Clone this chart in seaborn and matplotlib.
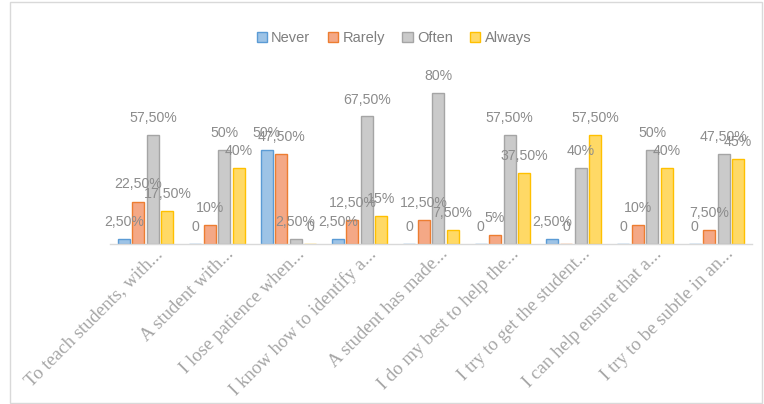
import matplotlib
matplotlib.use("Agg")
import matplotlib.pyplot as plt
import matplotlib.transforms as mtransforms
import seaborn as sns
import pandas as pd
from matplotlib.patches import Rectangle, Patch

categories = [
    "To teach students, with...",
    "A student with...",
    "I lose patience when...",
    "I know how to identify a...",
    "A student has made...",
    "I do my best to help the...",
    "I try to get the student...",
    "I can help ensure that a...",
    "I try to be subtle in an...",
]
series = ["Never", "Rarely", "Often", "Always"]
never = [2.5, 0, 50, 2.5, 0, 0, 2.5, 0, 0]
rarely = [22.5, 10, 47.5, 12.5, 12.5, 5, 0, 10, 7.5]
often = [57.5, 50, 2.5, 67.5, 80, 57.5, 40, 50, 47.5]
always = [17.5, 40, 0, 15, 7.5, 37.5, 57.5, 40, 45]

values = {"Never": never, "Rarely": rarely, "Often": often, "Always": always}
rows = []
for s in series:
    for c, v in zip(categories, values[s]):
        rows.append({"cat": c, "series": s, "val": v})
df = pd.DataFrame(rows)

fills = {"Never": "#9DC3E6", "Rarely": "#F4A886", "Often": "#CACACA", "Always": "#FFD966"}
edges = {"Never": "#5B9BD5", "Rarely": "#ED7D31", "Often": "#A5A5A5", "Always": "#FFC000"}

sns.set_style("white")
plt.rcParams["font.family"] = ["Liberation Sans", "DejaVu Sans"]

fig = plt.figure(figsize=(7.64, 4.04), dpi=100)
ax = fig.add_axes([110 / 764, 1 - 244 / 404, (752 - 110) / 764, (244 - 74) / 404])

sns.barplot(data=df, x="cat", y="val", hue="series", hue_order=series,
            palette=fills, width=0.81, gap=0.17, ax=ax, legend=False,
            saturation=1)

def fmt(v):
    if v == 0:
        return "0"
    if float(v).is_integer():
        return f"{int(v)}%"
    return f"{v:.2f}".replace(".", ",") + "%"

for cont, s in zip(ax.containers, series):
    for bar, v in zip(cont, values[s]):
        bar.set_edgecolor(edges[s])
        bar.set_linewidth(1.0)
        x = bar.get_x() + bar.get_width() / 2
        ax.annotate(fmt(v), (x, v), xytext=(0, 10), textcoords="offset pixels",
                    ha="center", va="bottom", fontsize=10.2, color="#8C8C8C")

ax.set_ylim(0, 90)
ax.set_xlim(-0.5, len(categories) - 0.5)
ax.set_yticks([])
ax.set_xlabel("")
ax.set_ylabel("")
for sp in ["top", "right", "left"]:
    ax.spines[sp].set_visible(False)
ax.spines["bottom"].set_color("#D9D9D9")
ax.spines["bottom"].set_linewidth(1.0)
ax.tick_params(axis="x", length=0, pad=1)
ax.set_xticks(range(len(categories)))
ax.set_xticklabels(categories, rotation=45, ha="right", va="top",
                   rotation_mode="anchor", family=["Liberation Serif"],
                   fontsize=13.5, color="#A6A6A6")
offset = mtransforms.ScaledTranslation(8 / 100, 0, fig.dpi_scale_trans)
for lbl in ax.get_xticklabels():
    lbl.set_transform(lbl.get_transform() + offset)

handles = [Patch(facecolor=fills[s], edgecolor=edges[s], label=s) for s in series]
fig.legend(handles=handles, loc="center", bbox_to_anchor=(394 / 764, 1 - 38 / 404),
           ncol=4, frameon=False, fontsize=10.5, labelcolor="#7F7F7F",
           handlelength=0.7, handleheight=0.7, handletextpad=0.3, columnspacing=1.2)

fig.patches.append(Rectangle((10 / 764, 1 / 404), 752 / 764, 401 / 404,
                             transform=fig.transFigure, fill=False,
                             edgecolor="#D9D9D9", linewidth=1))

fig.savefig("out.png", dpi=100)
